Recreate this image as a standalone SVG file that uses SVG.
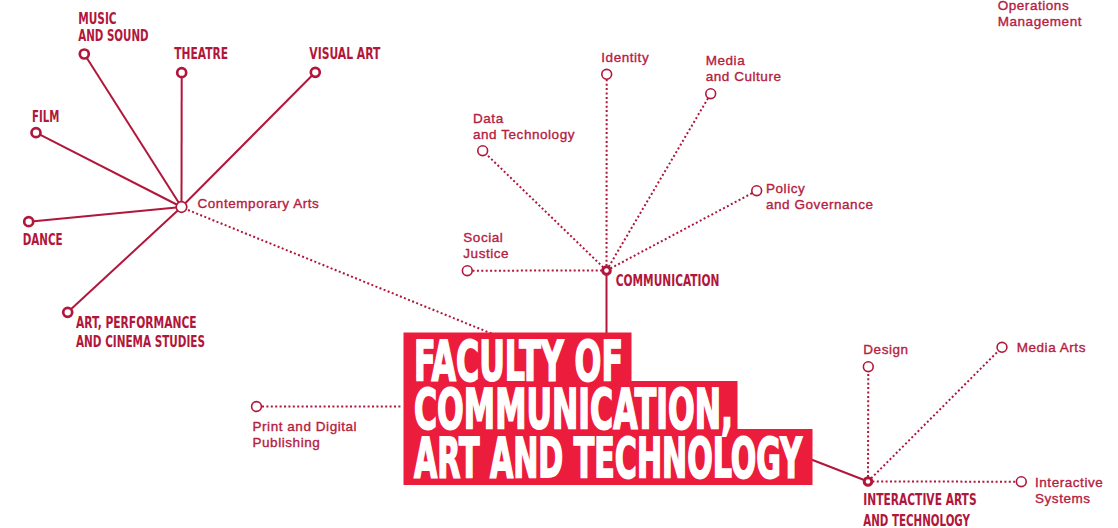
<svg xmlns="http://www.w3.org/2000/svg" width="1118" height="528" viewBox="0 0 1118 528">
<style>
.solid{stroke:#B1163B;stroke-width:2;fill:none}
.dot{stroke:#B1163B;stroke-width:2;fill:none;stroke-dasharray:2 2.4}
.ep{fill:#fff;stroke:#B1163B;stroke-width:2.7}
.el{fill:#fff;stroke:#B1163B;stroke-width:1.6}
.hub{fill:#fff;stroke:#B1163B;stroke-width:3}
.lt{font-family:"Liberation Sans",Arial,sans-serif;font-size:13.5px;letter-spacing:0.55px;fill:#B5203F;stroke:#B5203F;stroke-width:0.35}
.bd{font-family:"Liberation Sans Narrow","DejaVu Sans Condensed","Liberation Sans",sans-serif;font-weight:bold;font-size:15.5px;fill:#B1163B}
.tt{font-family:"Liberation Sans Narrow","DejaVu Sans Condensed","Liberation Sans",sans-serif;font-weight:bold;font-size:55px;fill:#fff;stroke:#fff;stroke-width:1.8}
</style>
<rect width="1118" height="528" fill="#fff"/>
<g id="connectors">
  <line class="solid" x1="181.5" y1="207" x2="84.3" y2="54"/>
  <line class="solid" x1="181.5" y1="207" x2="181.7" y2="72.7"/>
  <line class="solid" x1="181.5" y1="207" x2="315.3" y2="72.3"/>
  <line class="solid" x1="181.5" y1="207" x2="36" y2="132.7"/>
  <line class="solid" x1="181.5" y1="207" x2="28.7" y2="221.7"/>
  <line class="solid" x1="181.5" y1="207" x2="67.7" y2="312.3"/>
  <line class="dot" x1="188" y1="210" x2="500" y2="337"/>
  <line class="dot" x1="606.5" y1="270.5" x2="606.7" y2="74.3"/>
  <line class="dot" x1="606.5" y1="270.5" x2="710.7" y2="93.7"/>
  <line class="dot" x1="606.5" y1="270.5" x2="482.7" y2="150.7"/>
  <line class="dot" x1="606.5" y1="270.5" x2="756.7" y2="190.7"/>
  <line class="dot" x1="606.5" y1="270.5" x2="467.3" y2="270.7"/>
  <line class="solid" x1="606.5" y1="270.5" x2="606.5" y2="334"/>
  <line class="dot" x1="262" y1="406.5" x2="401" y2="406.5"/>
  <line class="solid" x1="810" y1="459" x2="868" y2="481.5"/>
  <line class="dot" x1="868" y1="481.5" x2="868.3" y2="366.7"/>
  <line class="dot" x1="868" y1="481.5" x2="1002" y2="347.3"/>
  <line class="dot" x1="868" y1="481.5" x2="1016" y2="481.7"/>
</g>
<g id="faculty">
  <path d="M403.5 332.5H631.5V381H737.5V429H812.5V485H403.5Z" fill="#EC1C3C"/>
  <text class="tt" x="414" y="380" textLength="209" lengthAdjust="spacingAndGlyphs">FACULTY OF</text>
  <text class="tt" x="414" y="428.3" textLength="319" lengthAdjust="spacingAndGlyphs">COMMUNICATION,</text>
  <text class="tt" x="414" y="476.7" textLength="388" lengthAdjust="spacingAndGlyphs">ART AND TECHNOLOGY</text>
</g>
<g id="contemporary-arts">
  <circle cx="181.5" cy="207" r="5.3" fill="#fff" stroke="#B1163B" stroke-width="1.7"/>
  <text class="lt" x="197.5" y="207.5">Contemporary Arts</text>
</g>
<g id="music"><circle class="ep" cx="84.3" cy="54" r="4.5"/>
  <text class="bd" x="78.3" y="24" textLength="38.3" lengthAdjust="spacingAndGlyphs">MUSIC</text>
  <text class="bd" x="78.3" y="41.3" textLength="70.3" lengthAdjust="spacingAndGlyphs">AND SOUND</text></g>
<g id="theatre"><circle class="ep" cx="181.7" cy="72.7" r="4.5"/>
  <text class="bd" x="174.3" y="59.3" textLength="53.7" lengthAdjust="spacingAndGlyphs">THEATRE</text></g>
<g id="visual-art"><circle class="ep" cx="315.3" cy="72.3" r="4.5"/>
  <text class="bd" x="309.3" y="58.7" textLength="71" lengthAdjust="spacingAndGlyphs">VISUAL ART</text></g>
<g id="film"><circle class="ep" cx="36" cy="132.7" r="4.5"/>
  <text class="bd" x="32" y="122" textLength="27.3" lengthAdjust="spacingAndGlyphs">FILM</text></g>
<g id="dance"><circle class="ep" cx="28.7" cy="221.7" r="4.5"/>
  <text class="bd" x="22.7" y="245.3" textLength="40" lengthAdjust="spacingAndGlyphs">DANCE</text></g>
<g id="art-performance"><circle class="ep" cx="67.7" cy="312.3" r="4.5"/>
  <text class="bd" x="76" y="328.3" textLength="120.7" lengthAdjust="spacingAndGlyphs">ART, PERFORMANCE</text>
  <text class="bd" x="76" y="346.7" textLength="129" lengthAdjust="spacingAndGlyphs">AND CINEMA STUDIES</text></g>
<g id="communication"><circle class="hub" cx="606.5" cy="270.5" r="3.8"/>
  <text class="bd" x="615.7" y="285.7" textLength="103.7" lengthAdjust="spacingAndGlyphs">COMMUNICATION</text></g>
<g id="identity"><circle class="el" cx="606.7" cy="74.3" r="4.9"/>
  <text class="lt" x="601.3" y="62.3">Identity</text></g>
<g id="media-culture"><circle class="el" cx="710.7" cy="93.7" r="4.9"/>
  <text class="lt" x="705.7" y="65">Media</text>
  <text class="lt" x="705.7" y="80.7">and Culture</text></g>
<g id="data-technology"><circle class="el" cx="482.7" cy="150.7" r="4.9"/>
  <text class="lt" x="473" y="122.7">Data</text>
  <text class="lt" x="473" y="138.7">and Technology</text></g>
<g id="policy"><circle class="el" cx="756.7" cy="190.7" r="4.9"/>
  <text class="lt" x="766" y="193.3">Policy</text>
  <text class="lt" x="766" y="209">and Governance</text></g>
<g id="social-justice"><circle class="el" cx="467.3" cy="270.7" r="4.9"/>
  <text class="lt" x="463.3" y="242.3">Social</text>
  <text class="lt" x="463.3" y="257.7">Justice</text></g>
<g id="print-digital"><circle class="el" cx="256.5" cy="406.5" r="4.9"/>
  <text class="lt" x="252.5" y="431">Print and Digital</text>
  <text class="lt" x="252.5" y="446.7">Publishing</text></g>
<g id="interactive-arts"><circle class="hub" cx="868" cy="481.5" r="3.8"/>
  <text class="bd" x="863.3" y="505.3" textLength="113.3" lengthAdjust="spacingAndGlyphs">INTERACTIVE ARTS</text>
  <text class="bd" x="863.3" y="525.7" textLength="106.7" lengthAdjust="spacingAndGlyphs">AND TECHNOLOGY</text></g>
<g id="design"><circle class="el" cx="868.3" cy="366.7" r="4.9"/>
  <text class="lt" x="863.3" y="354">Design</text></g>
<g id="media-arts"><circle class="el" cx="1002" cy="347.3" r="4.9"/>
  <text class="lt" x="1016.7" y="351.7">Media Arts</text></g>
<g id="interactive-systems"><circle class="el" cx="1021.3" cy="481.7" r="4.9"/>
  <text class="lt" x="1035" y="487">Interactive</text>
  <text class="lt" x="1035" y="503">Systems</text></g>
<g id="operations-management">
  <text class="lt" x="997.7" y="9.5">Operations</text>
  <text class="lt" x="997.7" y="25.5">Management</text></g>
</svg>
